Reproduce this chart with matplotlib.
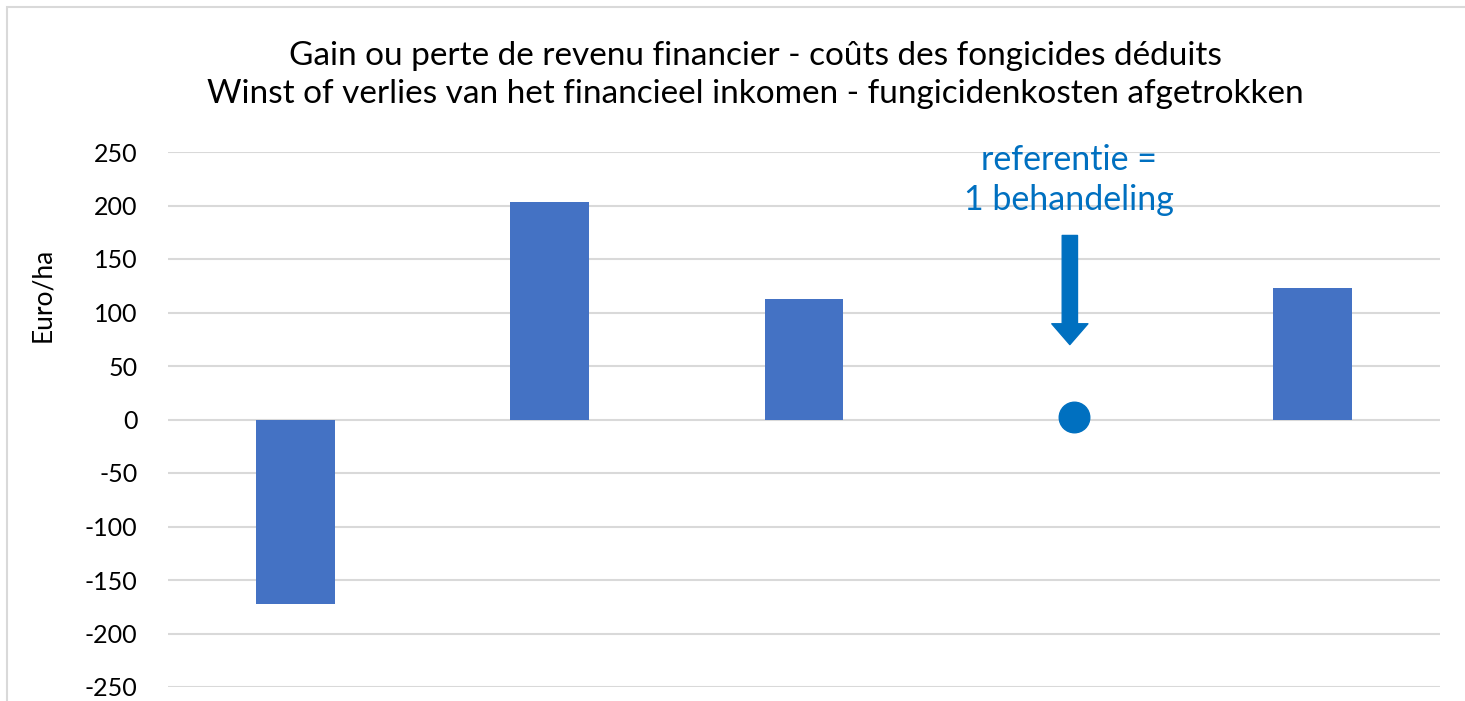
import matplotlib.pyplot as plt
from matplotlib.patches import Rectangle

plt.rcParams['font.family'] = ['Lato', 'DejaVu Sans']
plt.rcParams['axes.unicode_minus'] = False

# data
categories = ['T1', 'T2', 'T3', 'T4', 'T5']
bar_values = [-172, 203, 113, None, 123]
ref_index = 3
ref_value = 2
ref_offset = 0.06          # the dot sits a little right of the category centre
arrow_from, arrow_to = 172, 70
yticks = [250, 200, 150, 100, 50, 0, -50, -100, -150, -200, -250]

title = ("Gain ou perte de revenu financier - coûts des fongicides déduits\n"
         "Winst of verlies van het financieel inkomen - fungicidenkosten afgetrokken")
ref_text = "referentie =\n1 behandeling"

bar_color = '#4472C4'
ref_color = '#0070C0'
grid_color = '#d9d9d9'

fig = plt.figure(figsize=(14.65, 7.01), dpi=100)
ax = fig.add_axes([168/1465, 14/701, 1272/1465, 535/701])

# border of the chart area
fig.patches.append(Rectangle((7/1465, -0.05), 1.2, 1 - 7/701 + 0.05,
                             transform=fig.transFigure, fill=False,
                             edgecolor=grid_color, lw=1.5))

xs = [i for i, v in enumerate(bar_values) if v is not None]
vals = [v for v in bar_values if v is not None]
ax.bar(xs, vals, width=0.31, color=bar_color, zorder=3)

# reference point + arrow + label
rx = ref_index + ref_offset
ax.plot([rx], [ref_value], 'o', color=ref_color, markersize=22, zorder=4)
ax.annotate('', xy=(ref_index + 0.045, arrow_to), xytext=(ref_index + 0.045, arrow_from),
            arrowprops=dict(arrowstyle='simple,head_length=0.75,head_width=1.3,tail_width=0.55',
                            color=ref_color, mutation_scale=20, shrinkA=0, shrinkB=0), zorder=4)
ax.text(ref_index + 0.04, 224, ref_text, color=ref_color, fontsize=24.5,
        ha='center', va='center', linespacing=1.3, zorder=5)

ax.set_xlim(-0.5, len(categories) - 0.5)
ax.set_ylim(-250, 250)
ax.set_yticks(yticks)
ax.set_xticks([])
ax.tick_params(axis='y', length=0, pad=22, labelsize=18)
ax.grid(axis='y', color=grid_color, lw=1.5, zorder=0)
for s in ax.spines.values():
    s.set_visible(False)

ax.set_ylabel('Euro/ha', fontsize=19)
ax.yaxis.set_label_coords(-0.089, 0.733)

fig.text(755/1465, 1 - 75/701, title, fontsize=24, ha='center', va='center',
         linespacing=1.35)

fig.savefig('out.png', dpi=100)
